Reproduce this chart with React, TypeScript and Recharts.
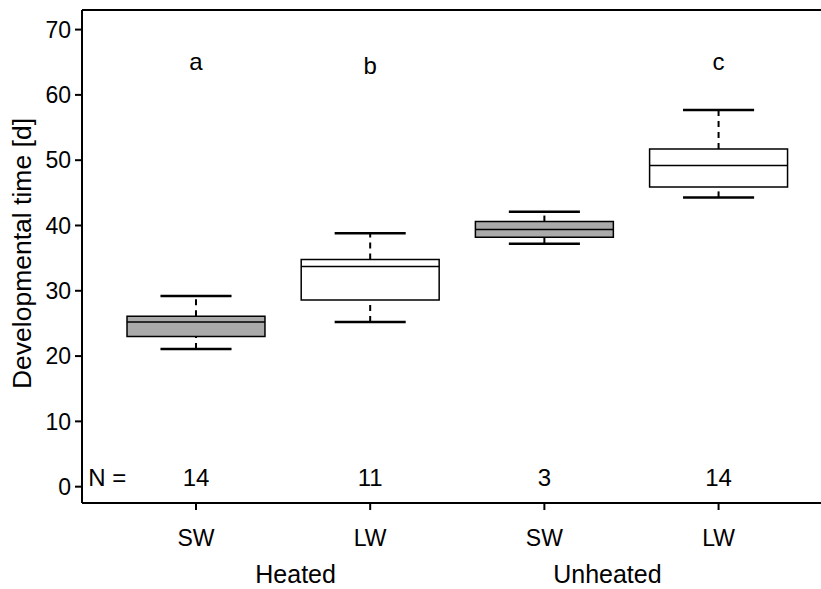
import React from "react";
import {
  ComposedChart,
  XAxis,
  YAxis,
  ReferenceArea,
  ReferenceLine,
  ReferenceDot,
} from "recharts";

// one box per treatment x wing morph
const positions = [1, 2, 3, 4];
const morphs = ["SW", "LW", "SW", "LW"];
const groupNames = ["Heated", "Unheated"];
const whiskerLow = [21.1, 25.2, 37.2, 44.3];
const quartile1 = [23.0, 28.6, 38.2, 45.9];
const medians = [25.2, 33.7, 39.4, 49.2];
const quartile3 = [26.1, 34.8, 40.6, 51.7];
const whiskerHigh = [29.2, 38.8, 42.1, 57.7];
const sampleSizes = [14, 11, 3, 14];
const letters = ["a", "b", "", "c"];
const yTicks = [0, 10, 20, 30, 40, 50, 60, 70];

const BOX_HALF = 0.396;
const CAP_HALF = 0.204;
const GRAY = "#aaaaaa";
const X_DOMAIN: [number, number] = [0.3456, 4.7545];
const Y_DOMAIN: [number, number] = [-2.5, 73];
// where the group captions sit along the x scale
const groupTicks = [1.572, 3.362];

const YLabel = (props: any) => {
  const vb = props.viewBox || { x: 0, y: 10, width: 82, height: 493 };
  const cx = 31;
  const cy = vb.y + vb.height / 2 - 3;
  return (
    <text
      x={cx}
      y={cy}
      transform={`rotate(-90, ${cx}, ${cy})`}
      textAnchor="middle"
      fontSize={26.5}
      fill="#000"
    >
      Developmental time [d]
    </text>
  );
};

export default function App() {
  const data = positions.map((p, i) => ({ x: p, median: medians[i] }));

  return (
    <div
      style={{
        position: "absolute",
        left: 0,
        top: 0,
        width: 821,
        height: 589,
        overflow: "hidden",
        background: "#fff",
        fontFamily: "'Liberation Sans', Arial, sans-serif",
      }}
    >
      <ComposedChart
        width={850}
        height={589}
        data={data}
        margin={{ top: 10, right: 0, bottom: 0, left: 0 }}
      >
        <XAxis
          xAxisId={0}
          dataKey="x"
          type="number"
          domain={X_DOMAIN}
          ticks={positions}
          allowDataOverflow
          tickFormatter={(v: number) => morphs[positions.indexOf(v)] ?? ""}
          tickSize={7}
          tickMargin={20}
          height={50}
          tick={{ fontSize: 23, fill: "#000" }}
          axisLine={{ stroke: "#000", strokeWidth: 2 }}
          tickLine={{ stroke: "#000", strokeWidth: 2 }}
        />
        <XAxis
          xAxisId={1}
          dataKey="x"
          type="number"
          domain={X_DOMAIN}
          ticks={groupTicks}
          allowDataOverflow
          tickFormatter={(v: number) => groupNames[groupTicks.indexOf(v)] ?? ""}
          tickSize={0}
          tickMargin={12}
          height={36}
          axisLine={false}
          tickLine={false}
          tick={{ fontSize: 25, fill: "#000" }}
        />
        <YAxis
          type="number"
          domain={Y_DOMAIN}
          ticks={yTicks}
          allowDataOverflow
          width={82}
          tickSize={7}
          tickMargin={4}
          tick={{ fontSize: 23, fill: "#000" }}
          axisLine={{ stroke: "#000", strokeWidth: 2 }}
          tickLine={{ stroke: "#000", strokeWidth: 2 }}
          label={<YLabel />}
        />

        {/* top frame */}
        <ReferenceLine y={Y_DOMAIN[1]} stroke="#000" strokeWidth={2} />

        {positions.map((p, i) => (
          <ReferenceLine
            key={`wu${i}`}
            segment={[
              { x: p, y: quartile3[i] },
              { x: p, y: whiskerHigh[i] },
            ]}
            stroke="#000"
            strokeWidth={2}
            strokeDasharray="6 5"
          />
        ))}
        {positions.map((p, i) => (
          <ReferenceLine
            key={`wl${i}`}
            segment={[
              { x: p, y: whiskerLow[i] },
              { x: p, y: quartile1[i] },
            ]}
            stroke="#000"
            strokeWidth={2}
            strokeDasharray="6 5"
          />
        ))}
        {positions.map((p, i) => (
          <ReferenceLine
            key={`cu${i}`}
            segment={[
              { x: p - CAP_HALF, y: whiskerHigh[i] },
              { x: p + CAP_HALF, y: whiskerHigh[i] },
            ]}
            stroke="#000"
            strokeWidth={2.5}
          />
        ))}
        {positions.map((p, i) => (
          <ReferenceLine
            key={`cl${i}`}
            segment={[
              { x: p - CAP_HALF, y: whiskerLow[i] },
              { x: p + CAP_HALF, y: whiskerLow[i] },
            ]}
            stroke="#000"
            strokeWidth={2.5}
          />
        ))}
        {positions.map((p, i) => (
          <ReferenceArea
            key={`box${i}`}
            x1={p - BOX_HALF}
            x2={p + BOX_HALF}
            y1={quartile1[i]}
            y2={quartile3[i]}
            fill={morphs[i] === "SW" ? GRAY : "#fff"}
            fillOpacity={1}
            stroke="#000"
            strokeWidth={1.5}
          />
        ))}
        {positions.map((p, i) => (
          <ReferenceLine
            key={`med${i}`}
            segment={[
              { x: p - BOX_HALF, y: medians[i] },
              { x: p + BOX_HALF, y: medians[i] },
            ]}
            stroke="#000"
            strokeWidth={1.5}
          />
        ))}

        {positions.map((p, i) =>
          letters[i] ? (
            <ReferenceDot
              key={`let${i}`}
              x={p}
              y={letters[i] === "b" ? 64.5 : 65.1}
              r={0}
              stroke="none"
              label={{ value: letters[i], position: "center", fontSize: 24, fill: "#000" }}
            />
          ) : null
        )}
        {positions.map((p, i) => (
          <ReferenceDot
            key={`n${i}`}
            x={p}
            y={1.41}
            r={0}
            stroke="none"
            label={{ value: String(sampleSizes[i]), position: "center", fontSize: 24, fill: "#000" }}
          />
        ))}
        <ReferenceDot
          x={0.49}
          y={1.41}
          r={0}
          stroke="none"
          label={{ value: "N =", position: "center", fontSize: 24, fill: "#000" }}
        />
      </ComposedChart>
    </div>
  );
}
